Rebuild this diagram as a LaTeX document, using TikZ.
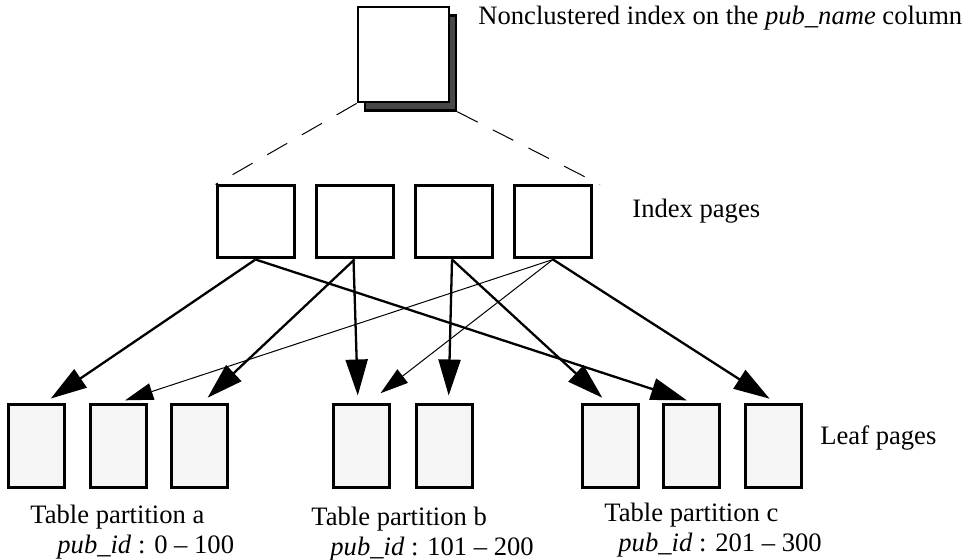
\documentclass[tikz,border=0pt]{standalone}
\usepackage{fontspec}
\setmainfont{Liberation Serif}
\usetikzlibrary{arrows.meta}
\begin{document}
\begin{tikzpicture}[x=0.5pt,y=-0.5pt,
  font=\fontsize{13.3}{15}\selectfont,
  topbox/.style={draw=black,line width=1.4pt,fill=white,minimum width=45.5pt,minimum height=47.5pt,inner sep=0pt},
  shadowbox/.style={draw=black,line width=1.2pt,fill=black!72,minimum width=45.5pt,minimum height=47.5pt,inner sep=0pt},
  idxbox/.style={draw=black,line width=1.5pt,fill=white,minimum width=38.5pt,minimum height=36pt,inner sep=0pt},
  leafbox/.style={draw=black,line width=1.5pt,fill=black!4,minimum width=28pt,minimum height=41.5pt,inner sep=0pt},
  lbl/.style={inner sep=0pt,anchor=base west},
  guide/.style={line width=0.5pt,dash pattern=on 11.5pt off 8.5pt},
  thickarr/.style={line width=1.15pt,-{Triangle[length=18pt,width=11pt]},shorten >=3.5pt},
  thinarr/.style={line width=0.5pt,-{Triangle[length=14pt,width=8.5pt]},shorten >=3.5pt},
]
\useasboundingbox (0,0) rectangle (972,560);

% top index with shadow
\node[shadowbox] (shadow) at (410.5,63) {};
\node[topbox] (top) at (403.5,54.5) {};

% index pages
\node[idxbox] (idx1) at (255.5,222) {};
\node[idxbox] (idx2) at (354.5,222) {};
\node[idxbox] (idx3) at (454,222) {};
\node[idxbox] (idx4) at (553,222) {};

% leaf pages
\node[leafbox] (leaf1) at (36,445.5) {};
\node[leafbox] (leaf2) at (118.5,445.5) {};
\node[leafbox] (leaf3) at (199.5,445.5) {};
\node[leafbox] (leaf4) at (361,445.5) {};
\node[leafbox] (leaf5) at (444.5,445.5) {};
\node[leafbox] (leaf6) at (610.5,445.5) {};
\node[leafbox] (leaf7) at (691.5,445.5) {};
\node[leafbox] (leaf8) at (773.5,445.5) {};

% dashed guide lines
\draw[guide] (top.south west) -- (idx1.north west);
\draw[guide] (shadow.south east) -- ([xshift=3.5pt]idx4.north east);

% arrows
\draw[thickarr] (idx1.south) -- ([xshift=4.5pt]leaf1.north);
\draw[thickarr] (idx1.south) -- ([xshift=1pt]leaf7.north);
\draw[thickarr] (idx2.south) -- ([xshift=1.5pt]leaf3.north);
\draw[thickarr] ([xshift=-0.5pt]idx2.south) -- ([xshift=-1.5pt]leaf4.north);
\draw[thickarr] ([xshift=-1pt]idx3.south) -- ([xshift=2pt]leaf5.north);
\draw[thickarr] ([xshift=-1pt]idx3.south) -- ([xshift=-1.5pt]leaf6.north);
\draw[thinarr] (idx4.south) -- (leaf2.north);
\draw[thinarr] (idx4.south) -- ([xshift=7pt,yshift=2.5pt]leaf4.north);
\draw[thickarr] (idx4.south) -- ([xshift=1pt]leaf8.north);

% labels
\node[lbl] (ttop) at (478,25) {Nonclustered index on the \textit{pub\_name} column};
\node[lbl] (tidx) at (632,218) {Index pages};
\node[lbl] (tleaf) at (820,444) {Leaf pages};
\node[lbl] (pa1) at (30,523) {Table partition a};
\node[lbl] (pa2) at (57,553) {\textit{pub\_id} : 0 -- 100};
\node[lbl] (pb1) at (311,525) {Table partition b};
\node[lbl] (pb2) at (330,555) {\textit{pub\_id} : 101 -- 200};
\node[lbl] (pc1) at (604,521) {Table partition c};
\node[lbl] (pc2) at (618,551) {\textit{pub\_id} : 201 -- 300};
\end{tikzpicture}
\end{document}
